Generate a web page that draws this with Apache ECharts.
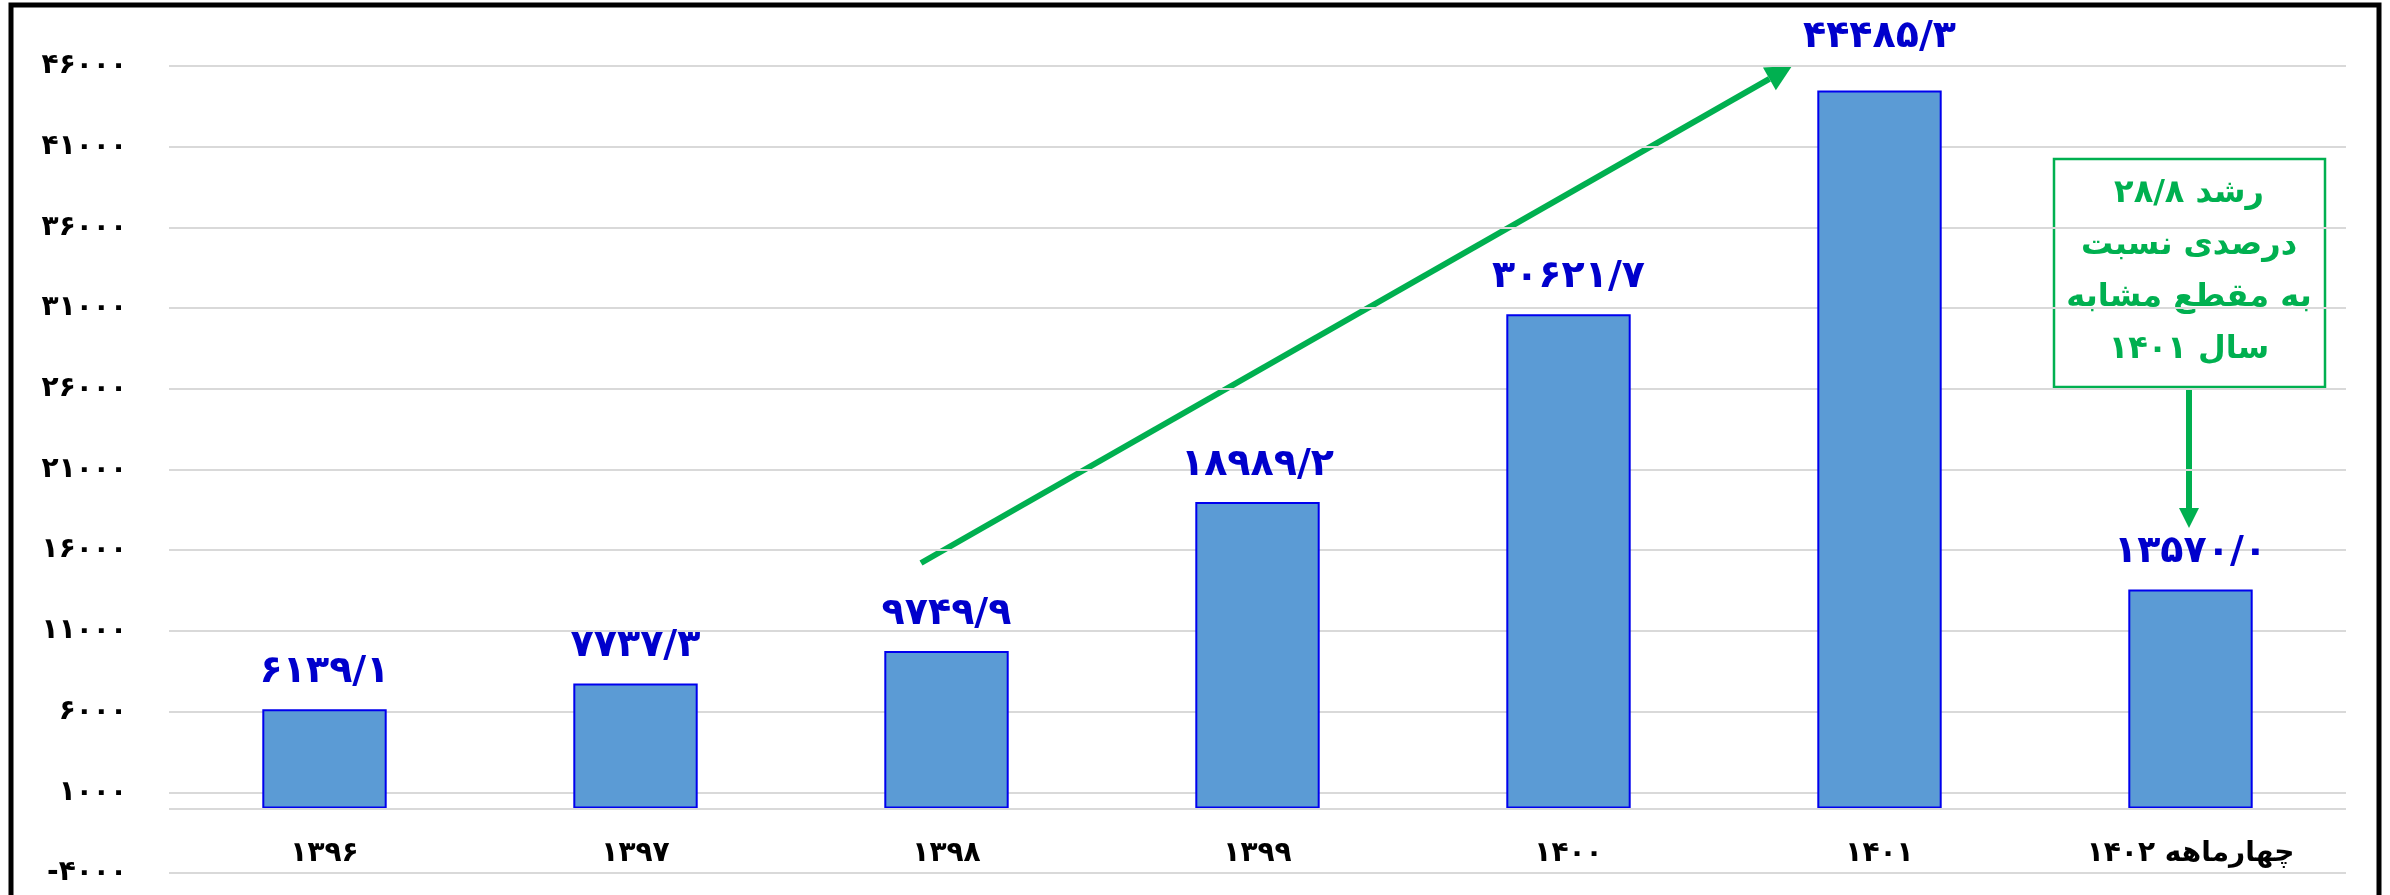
<!DOCTYPE html>
<html>
<head>
<meta charset="utf-8">
<script src="https://cdn.jsdelivr.net/npm/echarts@6/dist/echarts.min.js"></script>
<style>
  html, body { margin: 0; padding: 0; background: #fff; }
  #chart { width: 2390px; height: 895px; }
</style>
</head>
<body>
<div id="chart"></div>
<script>
// داده‌ها
const categories = ['۱۳۹۶', '۱۳۹۷', '۱۳۹۸', '۱۳۹۹', '۱۴۰۰', '۱۴۰۱', 'چهارماهه ۱۴۰۲']
const values = [6139.1, 7737.3, 9749.9, 18989.2, 30621.7, 44485.3, 13570.0]
const yMin = -4000
const yMax = 46000
const yStep = 5000
const noteLines = ['رشد ۲۸/۸', 'درصدی نسبت', 'به مقطع مشابه', 'سال ۱۴۰۱']

const FONT = '"DejaVu Sans", sans-serif'
const GREEN = '#00b050'

const faDigits = s => String(s).replace(/[0-9]/g, d => '۰۱۲۳۴۵۶۷۸۹'[d])

// فلش: خط + سر مثلثی
const arrow = (x1, y1, x2, y2, w, head) => {
  let a = Math.atan2(y2 - y1, x2 - x1)
  let bx = x2 - head * Math.cos(a)
  let by = y2 - head * Math.sin(a)
  let hw = head * 0.5
  return {
    type: 'group',
    children: [
      { type: 'line', shape: { x1: x1, y1: y1, x2: bx, y2: by }, style: { stroke: GREEN, lineWidth: w } },
      {
        type: 'polygon',
        shape: {
          points: [
            [x2, y2],
            [bx + hw * Math.sin(a), by - hw * Math.cos(a)],
            [bx - hw * Math.sin(a), by + hw * Math.cos(a)]
          ]
        },
        style: { fill: GREEN }
      }
    ]
  }
}

let chart = echarts.init(document.getElementById('chart'))

let option = {
  animation: false,
  grid: { left: 169, right: 44, top: 66, bottom: 22, outerBoundsMode: 'none' },
  xAxis: {
    type: 'category',
    data: categories,
    axisLine: { show: false, onZero: false },
    axisTick: { show: false },
    axisLabel: {
      inside: true,
      margin: 5,
      interval: 0,
      color: '#000',
      fontFamily: FONT,
      fontWeight: 'bold',
      fontSize: 28
    }
  },
  yAxis: {
    type: 'value',
    min: yMin,
    max: yMax,
    interval: yStep,
    axisLine: { show: false },
    axisTick: { show: false },
    splitLine: { lineStyle: { color: '#d9d9d9', width: 2 } },
    axisLabel: {
      margin: 42,
      color: '#000',
      fontFamily: FONT,
      fontWeight: 'bold',
      fontSize: 28,
      formatter: v => faDigits(v)
    }
  },
  series: [{
    type: 'bar',
    barWidth: '40%',
    data: values.map((v, i) => ({
      value: v,
      label: i === 5 ? { distance: 34 } : undefined
    })),
    itemStyle: { color: '#5b9bd5', borderColor: '#0000ee', borderWidth: 2 },
    label: {
      show: true,
      position: 'top',
      distance: 18,
      color: '#0000cc',
      fontFamily: FONT,
      fontWeight: 'bold',
      fontSize: 38,
      formatter: p => faDigits(p.value.toFixed(1)).replace('.', '/')
    },
    // خط صفر
    markLine: {
      silent: true,
      symbol: 'none',
      label: { show: false },
      lineStyle: { color: '#d9d9d9', width: 2, type: 'solid' },
      data: [{ yAxis: 0 }]
    }
  }],
  graphic: [
    // قاب دور نمودار
    { type: 'rect', shape: { x: 11, y: 5, width: 2368, height: 900 }, style: { fill: 'none', stroke: '#000', lineWidth: 5 }, silent: true },
    arrow(921, 563, 1792, 66, 6, 26),
    { type: 'rect', shape: { x: 2054, y: 159, width: 271, height: 228 }, style: { fill: '#fff', stroke: GREEN, lineWidth: 2.5 } },
    {
      type: 'text',
      x: 2189,
      y: 272,
      style: {
        text: noteLines.join('\n'),
        fill: GREEN,
        font: 'bold 32px ' + FONT,
        lineHeight: 52,
        align: 'center',
        verticalAlign: 'middle'
      }
    },
    arrow(2189, 388, 2189, 528, 6, 20)
  ]
}

chart.setOption(option)
</script>
</body>
</html>
